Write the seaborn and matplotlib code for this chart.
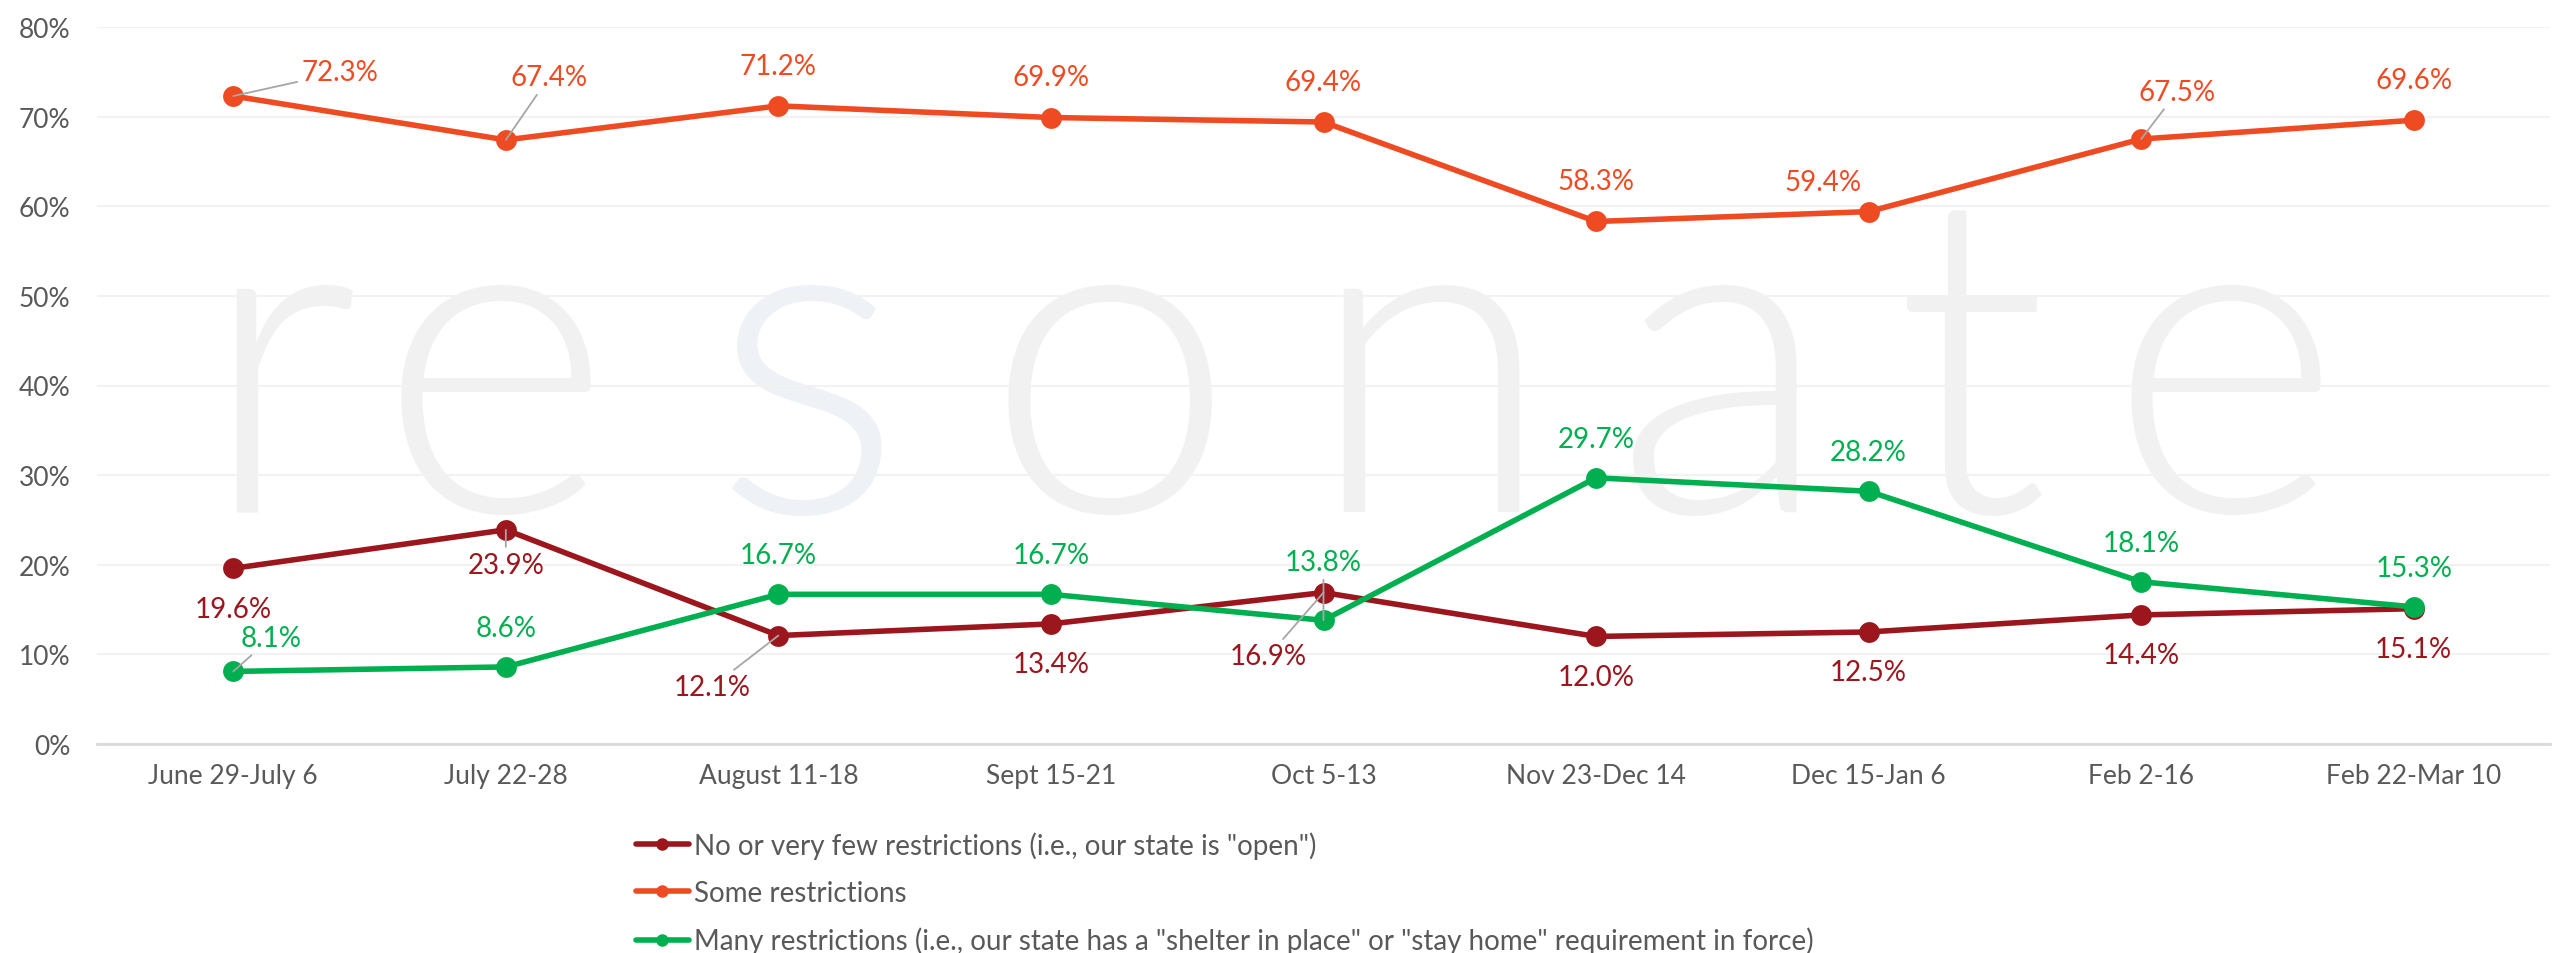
import numpy as np
import pandas as pd
import matplotlib
matplotlib.use("Agg")
import matplotlib.pyplot as plt
import seaborn as sns

# survey waves
periods = ["June 29-July 6", "July 22-28", "August 11-18", "Sept 15-21", "Oct 5-13",
           "Nov 23-Dec 14", "Dec 15-Jan 6", "Feb 2-16", "Feb 22-Mar 10"]

few_restrictions = [19.6, 23.9, 12.1, 13.4, 16.9, 12.0, 12.5, 14.4, 15.1]
some_restrictions = [72.3, 67.4, 71.2, 69.9, 69.4, 58.3, 59.4, 67.5, 69.6]
many_restrictions = [8.1, 8.6, 16.7, 16.7, 13.8, 29.7, 28.2, 18.1, 15.3]

series_names = ['No or very few restrictions (i.e., our state is "open")',
                'Some restrictions',
                'Many restrictions (i.e., our state has a "shelter in place" or "stay home" requirement in force)']
series_values = [few_restrictions, some_restrictions, many_restrictions]
series_colors = ["#9B161D", "#EF4B23", "#00AF4F"]

y_ticks = [0, 10, 20, 30, 40, 50, 60, 70, 80]

# label placement (dx, dy in points, leader line) where the default doesn't fit
default_dy = [-29, 29, 28]
special_offsets = [
    {1: (0, -25, True), 2: (-48, -37, True), 4: (-40, -46, True)},
    {0: (77, 17, True), 1: (31, 45, True), 6: (-33, 21, False), 7: (26, 34, True)},
    {0: (27, 24, True), 4: (0, 42, True)},
]

rows = []
for name, vals in zip(series_names, series_values):
    for p, v in zip(periods, vals):
        rows.append({"period": p, "value": v, "series": name})
df = pd.DataFrame(rows)

sns.set_style("white")
plt.rcParams["font.family"] = ["Lato", "DejaVu Sans"]

W, H = 2561, 954
fig = plt.figure(figsize=(W / 100, H / 100), dpi=100)
ax = fig.add_axes([97 / W, 1 - 745 / H, (2550 - 97) / W, (745 - 28) / H])

# faint "resonate" watermark behind the chart
wm_letters = list("resonate")
wm_x = [279, 495, 806, 1110, 1430, 1722, 1972, 2225]
for ch, xx in zip(wm_letters, wm_x):
    ax.text(xx / W, 1 - 512 / H, ch, transform=fig.transFigure, ha="center", va="baseline",
            fontsize=323, fontweight=300, color="#EEF1F5" if ch == "s" else "#F1F1F1",
            zorder=0, family="Lato")

sns.lineplot(data=df, x="period", y="value", hue="series", hue_order=series_names,
             palette=series_colors, marker="o", markersize=15, markeredgewidth=0,
             linewidth=4.0, sort=False, ax=ax, zorder=3)

for k, (vals, col) in enumerate(zip(series_values, series_colors)):
    for i, v in enumerate(vals):
        dx, dy, leader = special_offsets[k].get(i, (0, default_dy[k], False))
        props = dict(arrowstyle="-", color="#A6A6A6", lw=1.3, shrinkA=1, shrinkB=0) if leader else None
        ax.annotate(f"{v:.1f}%", xy=(i, v), xytext=(dx, dy), textcoords="offset points",
                    ha="center", va="center", fontsize=20, color=col,
                    arrowprops=props, zorder=5)

ax.set_xlim(-0.5, len(periods) - 0.5)
ax.set_ylim(0, 80)
ax.set_yticks(y_ticks)
ax.set_yticklabels([f"{t}%" for t in y_ticks])
ax.set_xlabel("")
ax.set_ylabel("")
ax.set_axisbelow(True)
ax.yaxis.grid(True, color="#F2F2F2", linewidth=1.5, zorder=0.5)
ax.set_facecolor("none")
ax.tick_params(axis="y", length=0, pad=19, labelsize=19, labelcolor="#595959")
ax.tick_params(axis="x", length=0, pad=14, labelsize=19, labelcolor="#595959")
for s in ["top", "right", "left"]:
    ax.spines[s].set_visible(False)
ax.spines["bottom"].set_color("#D9D9D9")
ax.spines["bottom"].set_linewidth(2)

handles, labels = ax.get_legend_handles_labels()
ax.legend_.remove()
leg = fig.legend(handles, labels, loc="upper left", bbox_to_anchor=(636 / W, 1 - 832 / H),
                 frameon=False, fontsize=20, labelcolor="#595959", borderpad=0, borderaxespad=0,
                 handlelength=1.9, handletextpad=0.2, labelspacing=0.76)
for h in leg.legend_handles:
    h.set_markersize(9)
    h.set_linewidth(4.0)

fig.savefig("out.png", dpi=100, facecolor="white")
